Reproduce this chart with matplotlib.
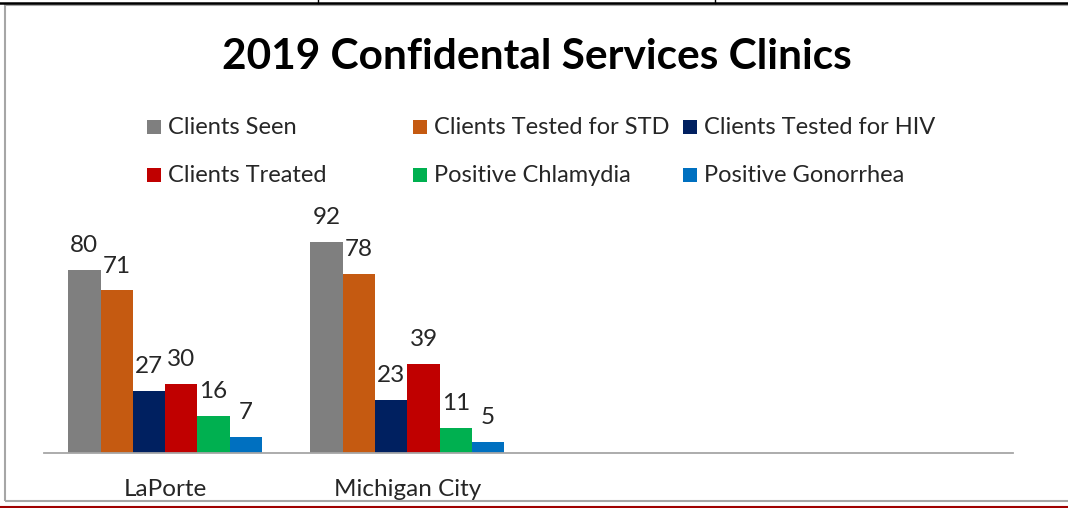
import matplotlib
matplotlib.use("Agg")
import matplotlib.pyplot as plt
from matplotlib.lines import Line2D
from matplotlib.patches import Rectangle
import numpy as np

plt.rcParams['font.family'] = ['Lato', 'DejaVu Sans']

title = "2019 Confidental Services Clinics"
categories = ["LaPorte", "Michigan City", "", ""]
series = ["Clients Seen", "Clients Tested for STD", "Clients Tested for HIV",
          "Clients Treated", "Positive Chlamydia", "Positive Gonorrhea"]
clients_seen = [80, 92]
clients_tested_std = [71, 78]
clients_tested_hiv = [27, 23]
clients_treated = [30, 39]
positive_chlamydia = [16, 11]
positive_gonorrhea = [7, 5]
values = [clients_seen, clients_tested_std, clients_tested_hiv,
          clients_treated, positive_chlamydia, positive_gonorrhea]
colors = ["#7F7F7F", "#C55A11", "#002060", "#C00000", "#00B050", "#0070C0"]

W, H = 1068, 508
fig = plt.figure(figsize=(W / 100, H / 100), dpi=100)

# page decorations
fig.add_artist(Rectangle((5.5 / W, 1 - 501 / H), (1080 - 5.5) / W, (501 - 5) / H,
                         fill=False, edgecolor="#A6A6A6", lw=1.5))
fig.add_artist(Line2D([0, 1], [1 - 3 / H, 1 - 3 / H], color="black", lw=1.8))
for xp in (318, 715):
    fig.add_artist(Line2D([xp / W, xp / W], [1 - 3 / H, 1], color="black", lw=1))
fig.add_artist(Line2D([0, 1], [1 - 507 / H, 1 - 507 / H], color="#A00000", lw=1.5))

# axes
scale = 2.29  # px per unit
ymax = 110
ax_bottom = 453
ax_h = ymax * scale
ax = fig.add_axes([44 / W, 1 - ax_bottom / H, (1013 - 44) / W, ax_h / H])
ax.set_xlim(-0.5, len(categories) - 0.5)
ax.set_ylim(0, ymax)
for s in ("top", "right", "left"):
    ax.spines[s].set_visible(False)
ax.spines["bottom"].set_color("#A6A6A6")
ax.spines["bottom"].set_linewidth(1.3)
ax.set_yticks([])
ax.set_xticks(range(len(categories)))
ax.set_xticklabels(categories, fontsize=17.5, color="#262626")
ax.tick_params(axis="x", length=0, pad=19)

n = len(series)
group_w = 0.8
bw = group_w / n
x = np.arange(len(clients_seen))
for i, (name, vals, c) in enumerate(zip(series, values, colors)):
    pos = x - group_w / 2 + bw * (i + 0.5)
    ax.bar(pos, vals, width=bw, color=c, label=name)
    for p, v in zip(pos, vals):
        ax.annotate(str(v), (p, v), xytext=(0, 10), textcoords="offset points",
                    ha="center", va="bottom", fontsize=17.5, color="#262626")

# title
fig.text(537 / W, 1 - 57 / H, title, ha="center", va="center",
         fontsize=30.5, fontweight="bold", color="black")

# legend (manual grid)
leg_cols = [154, 420, 690]
leg_rows = [127, 175]
for i, (name, c) in enumerate(zip(series, colors)):
    r, col = divmod(i, 3)
    lx, ly = leg_cols[col], leg_rows[r]
    fig.add_artist(Rectangle(((lx - 7) / W, 1 - (ly + 7) / H), 14 / W, 14 / H,
                             facecolor=c, edgecolor="none"))
    fig.text((lx + 14) / W, 1 - ly / H, name, ha="left", va="center",
             fontsize=17, color="#262626")

fig.savefig("out.png", dpi=100)
